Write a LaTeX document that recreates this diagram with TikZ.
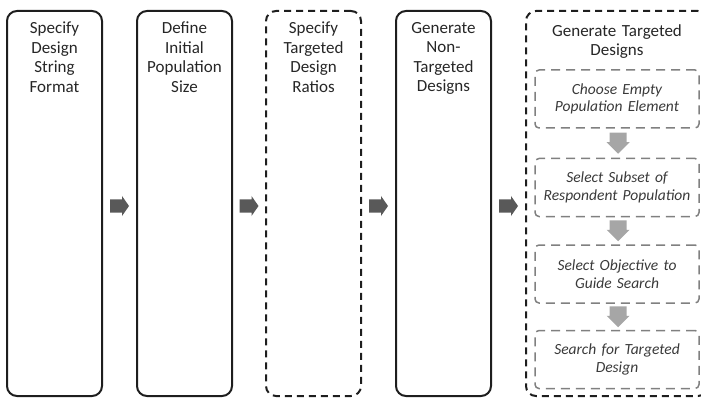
\documentclass[tikz,border=0pt]{standalone}
\usepackage{fontspec}
\setmainfont{Carlito}
\usetikzlibrary{calc}
\definecolor{outerline}{HTML}{1E1E1E}
\definecolor{innerline}{HTML}{808080}
\definecolor{rgray}{HTML}{595959}
\definecolor{dgray}{HTML}{A6A6A6}
\definecolor{txt}{HTML}{262626}
\definecolor{itxt}{HTML}{3A3A3A}
\begin{document}
\begin{tikzpicture}[x=1pt,y=-1pt,
  outerbox/.style={draw=outerline, line width=2pt, rounded corners=10pt, minimum width=95pt, minimum height=385pt, inner sep=0pt},
  outerdash/.style={outerbox, dash pattern=on 7pt off 5pt},
  innerbox/.style={draw=innerline, line width=1.5pt, rounded corners=4pt, dash pattern=on 9pt off 6pt, minimum width=164pt, minimum height=58pt, inner sep=0pt, text width=160pt, align=center, font=\fontsize{15.5}{17.5}\selectfont\itshape, text=itxt},
  title/.style={anchor=north, inner sep=0pt, text width=92pt, align=center, font=\fontsize{17}{19.5}\selectfont, text=txt},
  rarrow/.pic={\fill[rgray] (-9.5,-6.5) -- (2.5,-6.5) -- (2.5,-10) -- (9.5,0) -- (2.5,10) -- (2.5,6.5) -- (-9.5,6.5) -- cycle;},
  darrow/.pic={\fill[dgray] (-8.5,-10.5) -- (8.5,-10.5) -- (8.5,-1) -- (11.5,-1) -- (0,10.5) -- (-11.5,-1) -- (-8.5,-1) -- cycle;}
]
\useasboundingbox (0,0) rectangle (701,398);

\node[outerbox] (b1) at (54.5,203.5) {};
\node[outerbox] (b2) at (184.5,203.5) {};
\node[outerdash] (b3) at (313.5,203.5) {};
\node[outerbox] (b4) at (443.5,203.5) {};
\node[outerdash, minimum width=182pt] (b5) at (617,203.5) {};

\node[title] (t1) at ($(b1.north)+(0,12)$) {Specify\\Design\\String\\Format};
\node[title] (t2) at ($(b2.north)+(0,12)$) {Define\\Initial\\Population\\Size};
\node[title] (t3) at ($(b3.north)+(0,12)$) {Specify\\Targeted\\Design\\Ratios};
\node[title] (t4) at ($(b4.north)+(0,12)$) {Generate\\Non-\\Targeted\\Designs};
\node[title, text width=160pt] (t5) at ($(b5.north)+(0,14)$) {Generate Targeted\\Designs};

\node[innerbox] (i1) at (617,99) {Choose Empty\\Population Element};
\node[innerbox] (i2) at (617,187.5) {Select Subset of\\Respondent Population};
\node[innerbox] (i3) at (617,274) {Select Objective to\\Guide Search};
\node[innerbox] (i4) at (617,359.5) {Search for Targeted\\Design};

\pic at ($(b1.east)!0.5!(b2.west)+(0,2.5)$) {rarrow};
\pic at ($(b2.east)!0.5!(b3.west)+(0,2.5)$) {rarrow};
\pic at ($(b3.east)!0.5!(b4.west)+(0,2.5)$) {rarrow};
\pic at ($(b4.east)!0.5!(b5.west)+(0,2.5)$) {rarrow};

\pic at ($(i1.south)!0.5!(i2.north)+(1,0)$) {darrow};
\pic at ($(i2.south)!0.5!(i3.north)+(1,0)$) {darrow};
\pic at ($(i3.south)!0.5!(i4.north)+(1,0)$) {darrow};
\end{tikzpicture}
\end{document}
